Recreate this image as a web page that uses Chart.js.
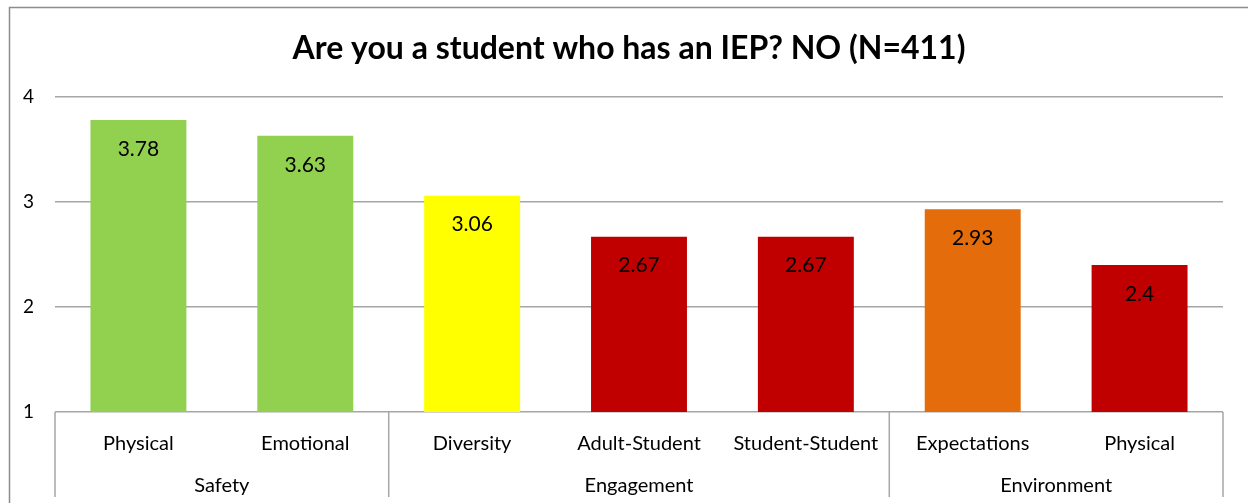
<!DOCTYPE html>
<html>
<head>
<meta charset="utf-8">
<script src="https://cdn.jsdelivr.net/npm/chart.js@4.4.1/dist/chart.umd.min.js"></script>
<style>
  html, body { margin: 0; padding: 0; background: #fff; }
  #wrap { position: relative; width: 1248px; height: 503px; }
</style>
</head>
<body>
<div id="wrap"><canvas id="iepChart" width="1248" height="503"></canvas></div>
<script>
// chart data
const titleText = 'Are you a student who has an IEP? NO (N=411)';
const categories = ['Physical', 'Emotional', 'Diversity', 'Adult-Student', 'Student-Student', 'Expectations', 'Physical'];
const groupNames = ['Safety', 'Engagement', 'Environment'];
const groupSizes = [2, 3, 2];
const scores = [3.78, 3.63, 3.06, 2.67, 2.67, 2.93, 2.4];
const barColors = ['#92D050', '#92D050', '#FFFF00', '#C00000', '#C00000', '#E46C0A', '#C00000'];
const yTicks = [1, 2, 3, 4];

const FONT = "Lato, 'Open Sans', sans-serif";
const LINE = '#a6a6a6';

// outer frame + title
const framePlugin = {
    id: 'frame',
    beforeDraw(chart) {
        const ctx = chart.ctx;
        ctx.save();
        ctx.strokeStyle = '#8c8c8c';
        ctx.lineWidth = 1.5;
        ctx.strokeRect(9.5, 7.5, 1300, 600);
        ctx.fillStyle = '#000';
        ctx.font = 'bold 32px ' + FONT;
        ctx.textAlign = 'center';
        ctx.textBaseline = 'middle';
        ctx.fillText(titleText, 629, 49);
        ctx.restore();
    }
};

// value labels inside the top of each bar
const valuePlugin = {
    id: 'values',
    afterDatasetsDraw(chart) {
        const ctx = chart.ctx;
        const meta = chart.getDatasetMeta(0);
        ctx.save();
        ctx.fillStyle = '#000';
        ctx.font = '21px ' + FONT;
        ctx.textAlign = 'center';
        ctx.textBaseline = 'middle';
        meta.data.forEach((bar, i) => {
            ctx.fillText(String(scores[i]), bar.x, bar.y + 29);
        });
        ctx.restore();
    }
};

// group row under the categories
const groupPlugin = {
    id: 'groups',
    afterDraw(chart) {
        const ctx = chart.ctx;
        const x = chart.scales.x;
        const half = (x.getPixelForValue(1) - x.getPixelForValue(0)) / 2;
        const top = chart.chartArea.bottom;
        ctx.save();
        ctx.strokeStyle = LINE;
        ctx.lineWidth = 1.5;
        ctx.fillStyle = '#000';
        ctx.font = '20px ' + FONT;
        ctx.textAlign = 'center';
        ctx.textBaseline = 'middle';
        let start = 0;
        const edges = [x.getPixelForValue(0) - half];
        groupSizes.forEach((n, g) => {
            const left = x.getPixelForValue(start) - half;
            const right = x.getPixelForValue(start + n - 1) + half;
            edges.push(right);
            ctx.fillText(groupNames[g], (left + right) / 2, top + 74);
            start += n;
        });
        edges.forEach(px => {
            ctx.beginPath();
            ctx.moveTo(px, top);
            ctx.lineTo(px, top + 85);
            ctx.stroke();
        });
        ctx.restore();
    }
};

new Chart(document.getElementById('iepChart').getContext('2d'), {
    type: 'bar',
    data: {
        labels: categories,
        datasets: [{
            data: scores,
            backgroundColor: barColors,
            borderWidth: 0,
            barPercentage: 0.575,
            categoryPercentage: 1.0
        }]
    },
    options: {
        responsive: false,
        animation: false,
        layout: { padding: { top: 97, left: 10, right: 25, bottom: 0 } },
        scales: {
            y: {
                min: 1,
                max: 4,
                afterBuildTicks: s => { s.ticks = yTicks.map(v => ({ value: v })); },
                afterFit: s => { s.width = 45; },
                border: { display: false },
                grid: { color: LINE, lineWidth: 1.5, drawTicks: false },
                ticks: { padding: 21, color: '#000', font: { family: FONT, size: 19 } }
            },
            x: {
                afterFit: s => { s.height = 91; },
                border: { display: false },
                grid: { display: false },
                ticks: { padding: 12, color: '#000', maxRotation: 0, autoSkip: false, font: { family: FONT, size: 20 } }
            }
        },
        plugins: {
            legend: { display: false },
            tooltip: { enabled: false },
            title: { display: false }
        }
    },
    plugins: [framePlugin, valuePlugin, groupPlugin]
});
</script>
</body>
</html>
